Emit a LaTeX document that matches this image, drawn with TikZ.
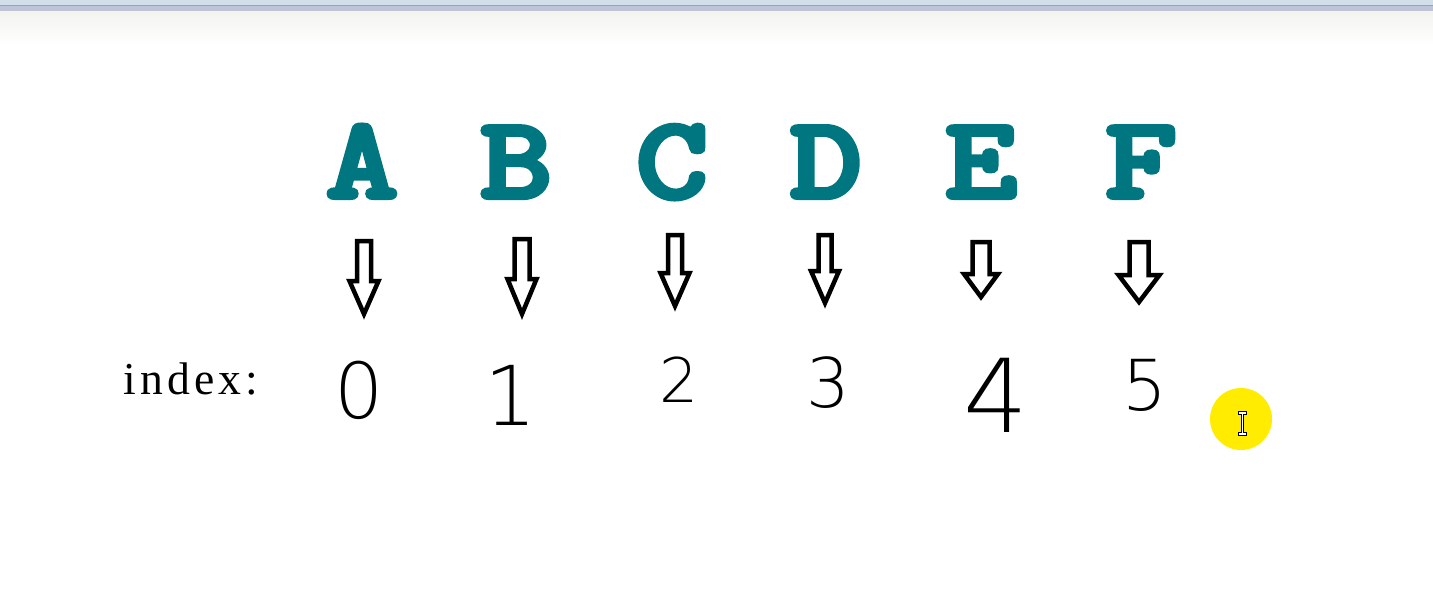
\documentclass[tikz,border=0pt]{standalone}
\usepackage{fontspec}
\usepackage{graphicx}
\usepackage{xcolor}
\usepackage{tikz}
\newfontfamily\letterfont[FakeBold=5.5]{Latin Modern Mono}
\newfontfamily\indexfont[LetterSpace=9]{Liberation Serif}
\IfFontExistsTF{DejaVu Sans ExtraLight}
  {\newfontfamily\handfont{DejaVu Sans ExtraLight}}
  {\newfontfamily\handfont{DejaVu Sans}}
\newcommand{\wideletter}[1]{\scalebox{1.2}[1]{#1}}
\definecolor{letterteal}{RGB}{0, 118, 128}
\definecolor{barblue}{RGB}{210, 222, 234}
\definecolor{barline}{RGB}{152, 164, 176}
\definecolor{barband}{RGB}{190, 196, 216}
\definecolor{fadegrey}{RGB}{243, 243, 240}
\definecolor{pointeryellow}{RGB}{255, 236, 0}
\tikzset{
  letter/.style={font=\letterfont\fontsize{65}{65}\selectfont,
                 text=letterteal,anchor=base,inner sep=0pt},
  digit/.style={inner sep=0pt},
  blockarr/.style={draw=black,line width=0.09cm,line join=miter,fill=white},
}
\begin{document}
\begin{tikzpicture}[x=0.02cm,y=-0.02cm]
        \useasboundingbox (0,0) rectangle (1433,615);
        % window edge
        \fill[barblue] (0,0) rectangle (1433,5);
        \fill[barline] (0,5) rectangle (1433,6.5);
        \fill[barband] (0,6.5) rectangle (1433,12);
        \shade[top color=fadegrey,bottom color=white] (0,12) rectangle (1433,45);
        % letters
        \foreach \c/\x in {A/362,B/516,C/672,D/826,E/981,F/1141}
          \node[letter] (l\c) at (\x,197) {\wideletter{\c}};
        % block arrows
        \foreach \x/\t/\s/\p/\w/\h in {364/241/281/314/7/14.5,522/239/279/314/7.5/14.5,
                                       675/235/273/306/7/14.5,825/235/271/303/6.5/14,
                                       981/242/274/297/8.5/17,1139/242/275/302/9.5/20.5}
          \draw[blockarr] ({\x-\w},\t)--({\x+\w},\t)--({\x+\w},\s)--({\x+\h},\s)
            --(\x,\p)--({\x-\h},\s)--({\x-\w},\s)--cycle;
        % index row
        \node[anchor=base west,inner sep=0pt,font=\indexfont\fontsize{26}{26}\selectfont]
          (idx) at (123,394) {index:};
        \foreach \d/\x/\y/\s in {0/359/390/44,1/511/395/47,2/679/380/35,
                                 3/828/383/39,4/996/395/58,5/1145/385/40}
          \node[digit,font=\handfont\fontsize{\s}{\s}\selectfont] (n\d) at (\x,\y) {\d};
        % pointer
        \fill[pointeryellow] (1241,419) circle (31);
        \draw[line width=2pt] (1238,413)--(1247,413) (1242.5,413)--(1242.5,434) (1238,434)--(1247,434);
        \draw[white,line width=0.6pt] (1239,413)--(1246,413) (1242.5,414)--(1242.5,433) (1239,434)--(1246,434);
      \end{tikzpicture}
\end{document}
